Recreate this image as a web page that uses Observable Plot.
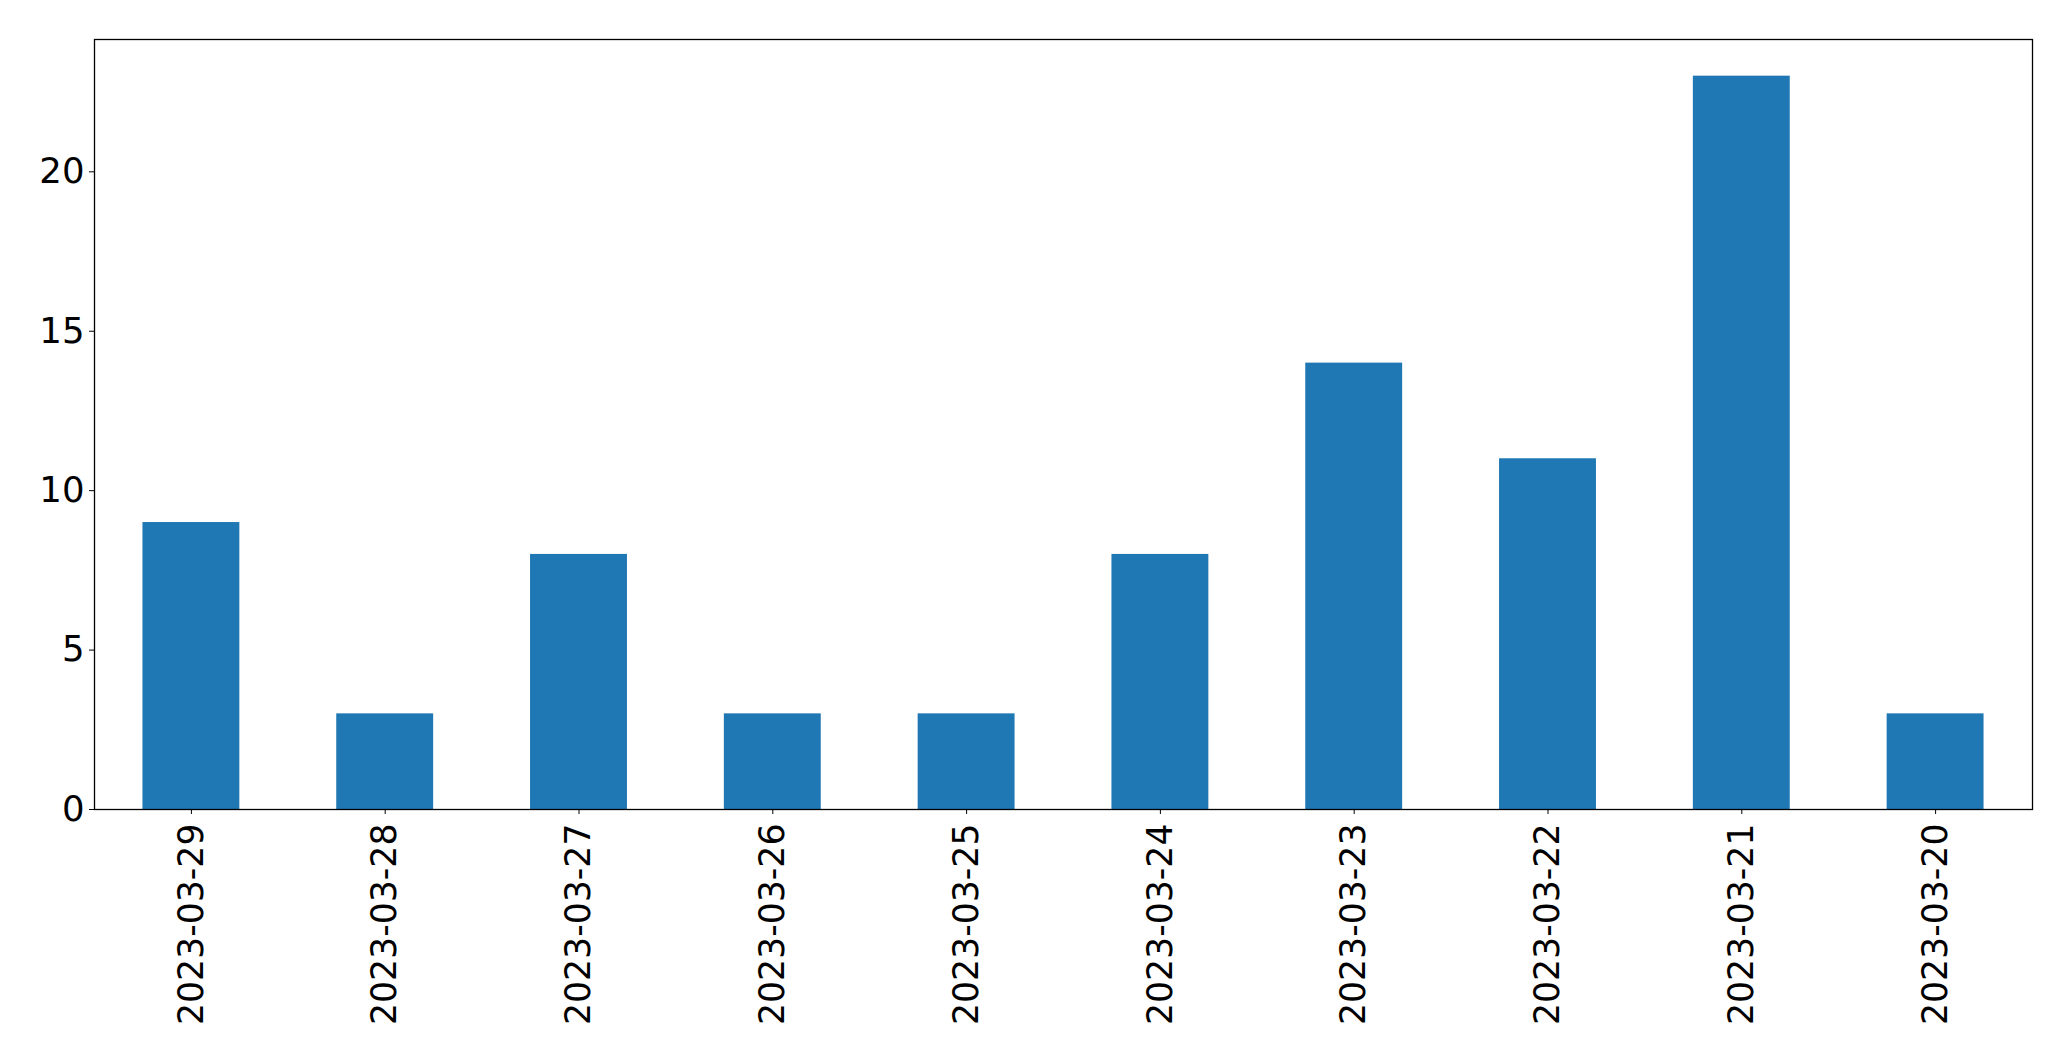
<!DOCTYPE html>
<html>
<head>
<meta charset="utf-8">
<script src="https://cdn.jsdelivr.net/npm/d3@7"></script>
<script src="https://cdn.jsdelivr.net/npm/@observablehq/plot@0.6"></script>
<style>
  html, body { margin: 0; padding: 0; background: #fff; }
  #chart svg { display: block; }
</style>
</head>
<body>
<div id="chart"></div>
<script>
const dates = ["2023-03-29","2023-03-28","2023-03-27","2023-03-26","2023-03-25","2023-03-24","2023-03-23","2023-03-22","2023-03-21","2023-03-20"];
const counts = [9, 3, 8, 3, 3, 8, 14, 11, 23, 3];
const yTicks = [0, 5, 10, 15, 20];

const data = dates.map((d, i) => ({date: d, count: counts[i]}));

const chart = Plot.plot({
  width: 2071,
  height: 1061,
  marginLeft: 94,
  marginRight: 39,
  marginTop: 39,
  marginBottom: 252,
  style: {fontFamily: "'DejaVu Sans', sans-serif", fontSize: "35px", background: "#fff", color: "#000"},
  x: {type: "band", domain: dates, paddingInner: 0.5, paddingOuter: 0.25, round: false, label: null},
  y: {domain: [0, d3.max(counts) * 1.05], label: null},
  marks: [
    Plot.barY(data, {x: "date", y: "count", fill: "#1f77b4"}),
    Plot.axisY({ticks: yTicks, tickSize: 5, tickPadding: 5, label: null, fontSize: 35.5, tickFormat: d => String(d)}),
    Plot.axisX({tickSize: 5, tickPadding: 9, tickRotate: -90, label: null, fontSize: 34.7}),
    Plot.frame({stroke: "#000", strokeWidth: 1.3})
  ]
});
document.getElementById("chart").appendChild(chart);
</script>
</body>
</html>
